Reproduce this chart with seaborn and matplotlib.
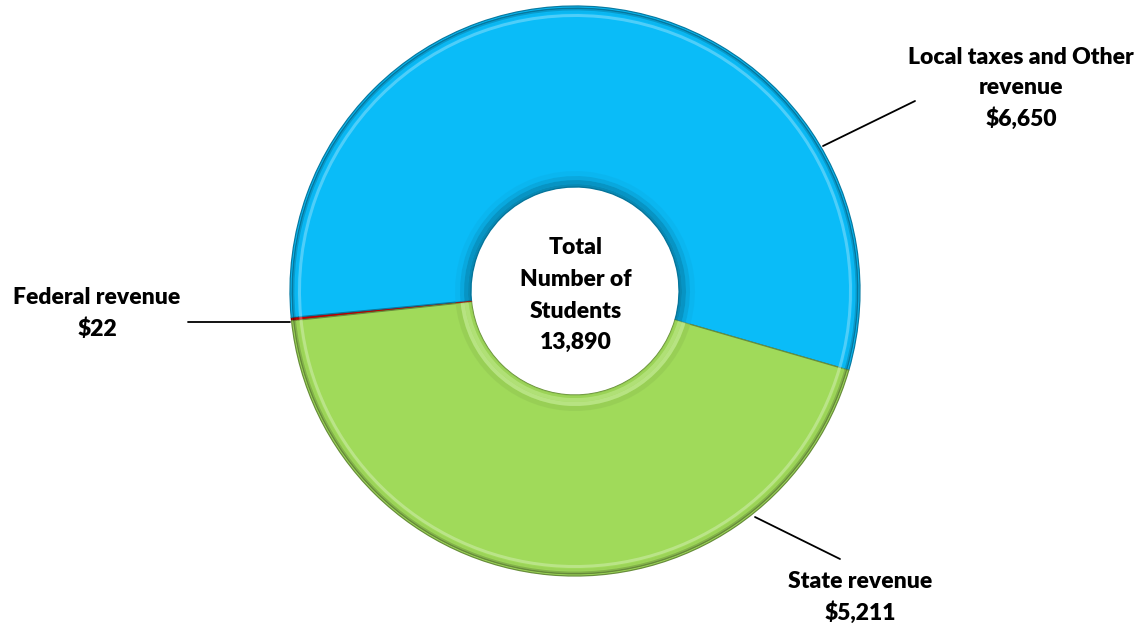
import numpy as np
import matplotlib
matplotlib.use("Agg")
import matplotlib.pyplot as plt
import seaborn as sns
from matplotlib.colors import to_rgb

# ---- data ----
categories = ["Federal revenue", "Local taxes and Other revenue", "State revenue"]
values = [22, 6650, 5211]
value_labels = ["$22", "$6,650", "$5,211"]
center_lines = ["Total", "Number of", "Students", "13,890"]
colors = ["#C00000", "#0ABCF8", "#A0DA5A"]

sns.set_theme(style="white")
plt.rcParams["font.family"] = ["Lato", "DejaVu Sans"]

W, H = 1146, 629
fig = plt.figure(figsize=(W / 100, H / 100), dpi=100)
ax = fig.add_axes([0, 0, 1, 1])

cx, cy = 575, H - 291
R_out, R_in = 285, 104
kw = dict(startangle=186, counterclock=False, center=(cx, cy), frame=True)


def shade(c, f):
    r = np.array(to_rgb(c))
    if f >= 0:
        return tuple(r + (1 - r) * f)
    return tuple(r * (1 + f))


def band(r, w, fs_, a=1.0):
    if not isinstance(fs_, (list, tuple)):
        fs_ = [fs_] * len(colors)
    ax.pie(values, colors=[shade(c, f) for c, f in zip(colors, fs_)], radius=r,
           wedgeprops=dict(width=w, edgecolor="none", linewidth=0, alpha=a), **kw)


# main ring
wedges, _ = ax.pie(values, colors=colors, radius=R_out,
                   wedgeprops=dict(width=R_out - R_in, linewidth=0.9), **kw)
for w_, c in zip(wedges, colors):
    w_.set_edgecolor(shade(c, -0.35))

# bevel-like shading near outer edge
band(R_out - 8, 3, 0.35, 0.8)
band(R_out - 5, 2, -0.05, 0.6)
band(R_out - 3, 1.5, -0.25, 0.7)
band(R_out - 1.5, 1.5, -0.45, 0.8)
# bevel-like shading near inner edge (blue shadowed, green highlighted)
band(R_in + 16, 5, [0, -0.05, -0.08], 0.6)
band(R_in + 11, 4, [0, -0.15, 0.35], 0.7)
band(R_in + 7, 4, [0, -0.3, 0.25], 0.7)
band(R_in + 3, 3, [0, -0.45, -0.05], 0.6)

ax.set_xlim(0, W)
ax.set_ylim(0, H)
ax.set_aspect("equal")
ax.axis("off")

# leader lines
ax.plot([188, 290], [H - 322, H - 322], color="black", lw=1.3)
ax.plot([823, 915], [H - 146, H - 101], color="black", lw=1.3)
ax.plot([755, 840], [H - 517, H - 559], color="black", lw=1.3)

fs = 16.5
tkw = dict(ha="center", va="center", fontsize=fs, fontweight="heavy", color="black")

# Local
ax.text(1021, H - 58, "Local taxes and Other", **tkw)
ax.text(1021, H - 88, "revenue", **tkw)
ax.text(1021, H - 119, value_labels[1], **tkw)
# Federal
ax.text(97, H - 298, categories[0], **tkw)
ax.text(97, H - 329, value_labels[0], **tkw)
# State
ax.text(860, H - 582, categories[2], **tkw)
ax.text(860, H - 613, value_labels[2], **tkw)

# center text
for line, y in zip(center_lines, [248, 279, 311, 342]):
    ax.text(576, H - y, line, **tkw)

fig.savefig("out.png", dpi=100, facecolor="white")
